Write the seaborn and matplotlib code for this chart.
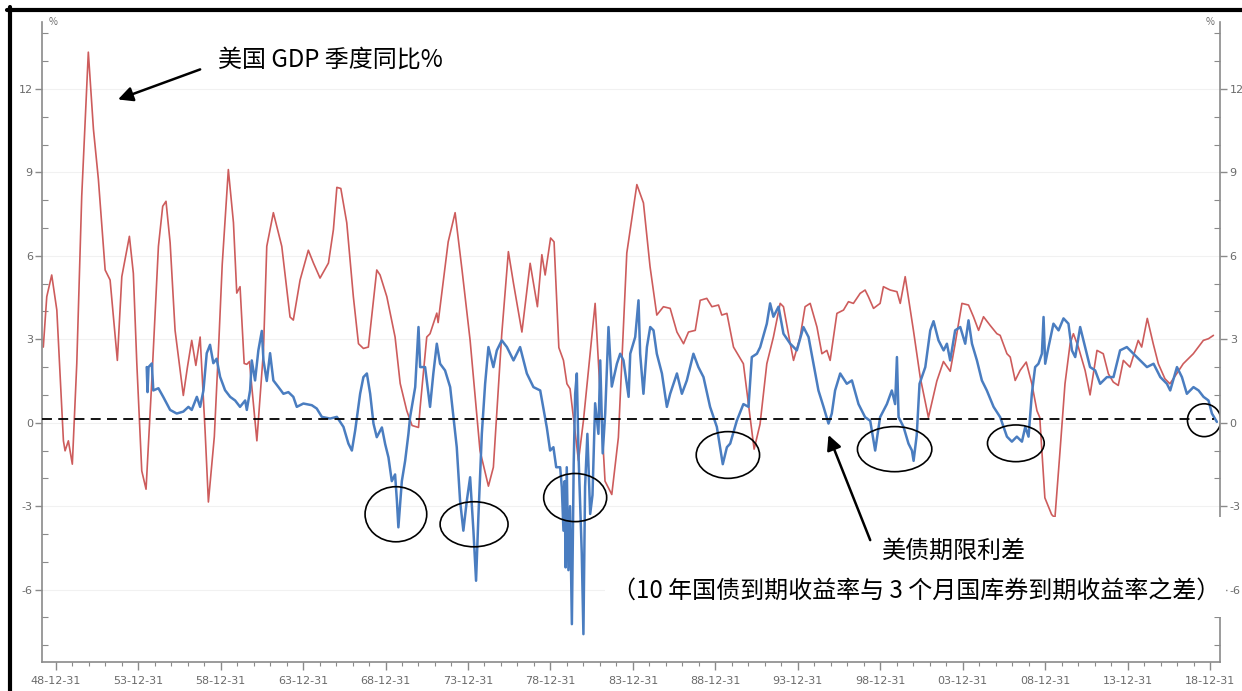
import matplotlib
matplotlib.use("Agg")
import matplotlib.pyplot as plt
import seaborn as sns
from matplotlib.patches import Ellipse, Rectangle
from matplotlib.lines import Line2D

# US GDP, year-on-year % (decimal years)
gdp_year = [
    1948.25, 1948.46, 1948.76, 1949.07, 1949.47, 1949.57, 1949.77, 1950.01, 1950.28, 1950.58,
    1950.98, 1951.29, 1951.59, 1952.00, 1952.30, 1952.74, 1953.01, 1953.47, 1953.71, 1953.92,
    1954.22, 1954.48, 1954.83, 1955.23, 1955.49, 1955.69, 1955.94, 1956.24, 1956.74, 1956.99,
    1957.25, 1957.50, 1957.76, 1958.06, 1958.26, 1958.62, 1958.90, 1959.10, 1959.47, 1959.78,
    1959.98, 1960.18, 1960.43, 1960.59, 1960.75, 1961.20, 1961.60, 1961.80, 1962.20, 1962.71,
    1963.21, 1963.41, 1963.82, 1964.32, 1964.63, 1965.03, 1965.54, 1965.84, 1966.05, 1966.29,
    1966.65, 1967.05, 1967.36, 1967.66, 1967.96, 1968.47, 1968.67, 1969.08, 1969.58, 1969.89,
    1970.29, 1970.61, 1971.00, 1971.10, 1971.50, 1971.70, 1972.11, 1972.19, 1972.80, 1973.22,
    1973.64, 1974.13, 1974.73, 1975.24, 1975.54, 1976.05, 1976.45, 1976.76, 1977.27, 1977.77,
    1978.21, 1978.48, 1978.68, 1979.01, 1979.22, 1979.51, 1979.79, 1980.00, 1980.19, 1980.70,
    1981.00, 1981.71, 1982.31, 1982.72, 1983.12, 1983.63, 1984.24, 1984.64, 1985.04, 1985.45,
    1985.85, 1986.26, 1986.67, 1987.07, 1987.37, 1987.78, 1988.08, 1988.48, 1988.79, 1989.19,
    1989.39, 1989.70, 1990.10, 1990.70, 1991.11, 1991.35, 1991.71, 1992.12, 1992.52, 1992.93,
    1993.13, 1993.54, 1993.74, 1994.14, 1994.44, 1994.75, 1995.16, 1995.46, 1995.76, 1995.96,
    1996.37, 1996.77, 1997.07, 1997.37, 1997.78, 1998.08, 1998.28, 1998.59, 1998.99, 1999.19,
    1999.60, 2000.01, 2000.21, 2000.51, 2001.01, 2001.42, 2001.92, 2002.43, 2002.83, 2003.24,
    2003.54, 2003.95, 2004.35, 2004.65, 2004.96, 2005.26, 2005.66, 2006.07, 2006.27, 2006.68,
    2006.88, 2007.18, 2007.48, 2007.85, 2008.19, 2008.50, 2008.67, 2008.98, 2009.39, 2009.59,
    2009.90, 2010.20, 2010.51, 2010.71, 2011.01, 2011.42, 2011.72, 2012.14, 2012.52, 2012.83,
    2013.13, 2013.43, 2013.74, 2014.14, 2014.64, 2014.85, 2015.19, 2015.55, 2015.86, 2016.26,
    2016.56, 2016.97, 2017.37, 2017.98, 2018.59, 2018.90, 2019.20,
]
gdp_yoy = [
    2.72, 4.53, 5.31, 4.05, -0.65, -1.01, -0.65, -1.49, 2.13, 8.14,
    13.32, 10.55, 8.75, 5.49, 5.13, 2.24, 5.25, 6.70, 5.37, 2.13,
    -1.73, -2.39, 1.52, 6.34, 7.78, 7.96, 6.47, 3.32, 0.98, 2.00,
    2.96, 2.06, 3.08, -0.29, -2.85, -0.50, 3.00, 5.70, 9.10, 7.19,
    4.66, 4.89, 2.13, 2.10, 2.20, -0.65, 2.60, 6.34, 7.55, 6.34,
    3.80, 3.69, 5.13, 6.20, 5.74, 5.20, 5.74, 6.94, 8.46, 8.42,
    7.19, 4.53, 2.84, 2.67, 2.72, 5.49, 5.31, 4.53, 3.08, 1.41,
    0.43, -0.10, -0.17, 0.55, 3.08, 3.20, 3.94, 3.60, 6.50, 7.55,
    5.49, 2.96, -1.01, -2.28, -1.60, 3.20, 6.15, 5.01, 3.26, 5.73,
    4.17, 6.04, 5.31, 6.64, 6.50, 2.70, 2.24, 1.40, 1.22, -1.37,
    0.07, 4.29, -2.10, -2.58, -0.53, 6.10, 8.56, 7.90, 5.61, 3.87,
    4.17, 4.11, 3.26, 2.84, 3.26, 3.32, 4.40, 4.47, 4.17, 4.23,
    3.87, 3.93, 2.72, 2.12, 0.19, -0.95, -0.05, 2.12, 3.08, 4.29,
    4.17, 2.84, 2.24, 3.08, 4.17, 4.29, 3.44, 2.48, 2.60, 2.24,
    3.93, 4.05, 4.35, 4.29, 4.65, 4.77, 4.53, 4.11, 4.29, 4.89,
    4.77, 4.71, 4.29, 5.25, 3.32, 1.64, 0.19, 1.50, 2.20, 1.85,
    2.84, 4.29, 4.23, 3.81, 3.32, 3.81, 3.50, 3.20, 3.14, 2.48,
    2.36, 1.52, 1.88, 2.18, 1.40, 0.43, 0.19, -2.70, -3.30, -3.42,
    -1.01, 1.40, 2.84, 3.20, 2.72, 1.88, 1.00, 2.60, 2.48, 1.76,
    1.46, 1.34, 2.24, 2.00, 2.96, 2.72, 3.75, 2.84, 2.12, 1.58,
    1.40, 1.76, 2.12, 2.48, 2.96, 3.02, 3.14,
]

# 10y Treasury minus 3m bill, percentage points
spread_year = [
    1954.52, 1954.57, 1954.63, 1954.83, 1954.92, 1955.23, 1955.53, 1955.94, 1956.34, 1956.74,
    1957.05, 1957.25, 1957.56, 1957.76, 1957.96, 1958.16, 1958.36, 1958.56, 1958.76, 1958.97,
    1959.27, 1959.58, 1959.88, 1960.18, 1960.49, 1960.59, 1960.79, 1960.89, 1961.09, 1961.29,
    1961.50, 1961.60, 1961.80, 1962.00, 1962.20, 1962.51, 1962.81, 1963.11, 1963.41, 1963.62,
    1964.02, 1964.53, 1964.83, 1965.14, 1965.64, 1966.05, 1966.45, 1966.75, 1966.96, 1967.16,
    1967.46, 1967.66, 1967.87, 1968.07, 1968.27, 1968.47, 1968.78, 1968.98, 1969.18, 1969.38,
    1969.58, 1969.69, 1969.78, 1969.99, 1970.19, 1970.39, 1970.49, 1970.80, 1971.00, 1971.10,
    1971.40, 1971.70, 1971.90, 1972.11, 1972.31, 1972.61, 1972.92, 1973.12, 1973.32, 1973.52,
    1973.72, 1973.93, 1974.13, 1974.33, 1974.49, 1974.63, 1974.84, 1975.04, 1975.24, 1975.54,
    1975.75, 1976.05, 1976.36, 1976.76, 1977.16, 1977.57, 1977.97, 1978.38, 1978.78, 1978.98,
    1979.18, 1979.35, 1979.59, 1979.69, 1979.79, 1979.86, 1979.92, 1979.99, 1980.09, 1980.19,
    1980.30, 1980.41, 1980.50, 1980.60, 1980.70, 1980.90, 1981.00, 1981.10, 1981.24, 1981.41,
    1981.55, 1981.71, 1981.91, 1982.02, 1982.17, 1982.32, 1982.52, 1982.72, 1983.03, 1983.23,
    1983.43, 1983.74, 1983.84, 1984.14, 1984.34, 1984.44, 1984.64, 1984.85, 1985.05, 1985.25,
    1985.45, 1985.76, 1986.06, 1986.26, 1986.67, 1986.97, 1987.27, 1987.67, 1987.97, 1988.28,
    1988.68, 1989.09, 1989.45, 1989.70, 1989.90, 1990.30, 1990.70, 1991.01, 1991.21, 1991.52,
    1991.72, 1992.12, 1992.32, 1992.52, 1992.83, 1993.13, 1993.54, 1993.94, 1994.34, 1994.65,
    1994.95, 1995.25, 1995.56, 1995.86, 1996.06, 1996.26, 1996.57, 1996.97, 1997.28, 1997.68,
    1998.08, 1998.39, 1998.69, 1998.99, 1999.40, 1999.70, 1999.90, 2000.01, 2000.11, 2000.41,
    2000.71, 2000.92, 2001.02, 2001.21, 2001.38, 2001.73, 2002.03, 2002.23, 2002.53, 2002.84,
    2003.04, 2003.24, 2003.54, 2003.85, 2004.15, 2004.35, 2004.56, 2004.86, 2005.16, 2005.46,
    2005.87, 2006.27, 2006.68, 2006.98, 2007.28, 2007.59, 2007.79, 2007.99, 2008.19, 2008.39,
    2008.59, 2008.80, 2008.90, 2009.00, 2009.20, 2009.50, 2009.81, 2010.11, 2010.41, 2010.62,
    2010.82, 2011.12, 2011.42, 2011.72, 2012.03, 2012.33, 2012.74, 2013.14, 2013.54, 2013.95,
    2014.35, 2014.76, 2015.17, 2015.57, 2015.98, 2016.38, 2016.58, 2016.99, 2017.29, 2017.59,
    2017.99, 2018.30, 2018.60, 2018.90, 2019.11, 2019.41,
]
spread = [
    2.00, 1.10, 2.00, 2.13, 1.16, 1.24, 0.92, 0.46, 0.33, 0.40,
    0.57, 0.46, 0.93, 0.57, 1.16, 2.50, 2.80, 2.14, 2.30, 1.65,
    1.17, 0.93, 0.80, 0.57, 0.80, 0.46, 1.17, 2.24, 1.52, 2.60,
    3.30, 2.24, 1.50, 2.50, 1.52, 1.28, 1.04, 1.10, 0.93, 0.57,
    0.69, 0.63, 0.51, 0.21, 0.15, 0.21, -0.15, -0.75, -1.00, -0.28,
    1.04, 1.64, 1.77, 1.04, -0.03, -0.52, -0.17, -0.77, -1.25, -2.10,
    -1.86, -2.80, -3.76, -2.10, -1.37, -0.40, 0.20, 1.28, 3.44, 2.00,
    2.00, 0.57, 1.77, 2.84, 2.12, 1.88, 1.28, 0.20, -0.88, -2.80,
    -3.88, -2.80, -1.96, -3.88, -5.68, -3.40, -0.40, 1.40, 2.72, 2.00,
    2.60, 2.96, 2.72, 2.24, 2.72, 1.77, 1.28, 1.16, -0.17, -1.00,
    -0.88, -1.60, -1.60, -2.33, -3.88, -2.10, -5.20, -1.60, -5.30, -3.00,
    -7.24, -1.48, 1.04, 1.77, -1.10, -4.70, -7.60, -2.30, -0.40, -3.28,
    -2.60, 0.70, -0.40, 2.24, -1.10, 0.33, 3.44, 1.30, 2.12, 2.48,
    2.24, 0.93, 2.48, 3.08, 4.40, 2.48, 1.04, 2.72, 3.44, 3.32,
    2.48, 1.77, 0.57, 1.04, 1.77, 1.04, 1.52, 2.48, 2.00, 1.64,
    0.57, -0.15, -1.49, -0.88, -0.75, 0.07, 0.67, 0.57, 2.36, 2.48,
    2.72, 3.56, 4.29, 3.81, 4.17, 3.20, 2.84, 2.60, 3.44, 3.08,
    2.12, 1.16, 0.57, -0.03, 0.33, 1.16, 1.77, 1.40, 1.52, 0.67,
    0.20, 0.07, -1.00, 0.20, 0.67, 1.16, 0.67, 2.36, 0.20, -0.15,
    -0.75, -1.00, -1.37, -0.45, 1.40, 2.00, 3.32, 3.65, 2.96, 2.60,
    2.84, 2.24, 3.32, 3.44, 2.84, 3.68, 2.84, 2.24, 1.52, 1.16,
    0.57, 0.20, -0.50, -0.68, -0.50, -0.68, -0.15, -0.50, 1.04, 2.00,
    2.12, 2.48, 3.80, 2.12, 2.72, 3.56, 3.32, 3.75, 3.56, 2.60,
    2.36, 3.44, 2.72, 2.00, 1.88, 1.40, 1.64, 1.64, 2.60, 2.72,
    2.48, 2.24, 2.00, 2.12, 1.64, 1.40, 1.16, 2.00, 1.64, 1.04,
    1.28, 1.16, 0.93, 0.80, 0.33, 0.03,
]

x_ticks = [1949, 1954, 1959, 1964, 1969, 1974, 1979, 1984, 1989, 1994, 1999, 2004, 2009, 2014, 2019]
x_labels = ["48-12-31", "53-12-31", "58-12-31", "63-12-31", "68-12-31", "73-12-31", "78-12-31",
            "83-12-31", "88-12-31", "93-12-31", "98-12-31", "03-12-31", "08-12-31", "13-12-31",
            "18-12-31"]
y_ticks = [-6, -3, 0, 3, 6, 9, 12]
y_labels = ["-6", "-3", "0", "3", "6", "9", "12"]

# circled inversions: centre year, centre value, width (years), height (pp)
circle_year = [1969.63, 1974.37, 1980.50, 1989.76, 1999.87, 2007.22, 2018.64]
circle_val = [-3.29, -3.65, -2.69, -1.16, -0.95, -0.74, 0.09]
circle_w = [3.74, 4.12, 3.82, 3.84, 4.51, 3.44, 2.03]
circle_h = [1.98, 1.62, 1.73, 1.68, 1.62, 1.32, 1.18]

sns.set_theme(style="ticks")
plt.rcParams["font.family"] = ["Noto Sans CJK SC", "DejaVu Sans"]

fig = plt.figure(figsize=(12.42, 6.91), dpi=100)
ax = fig.add_axes([0.0342, 0.042, 0.9481, 0.926])

red = "#cd5c5c"
blue = "#4a7dc0"
axis_grey = "#8a8a8a"
label_grey = "#6a6a6a"
tick_font = ["Liberation Sans Narrow", "DejaVu Sans"]

x_lo, x_hi = 1948.2, 2019.6
y_lo, y_hi = -8.6, 14.4

for v in y_ticks:
    ax.axhline(v, color="#f1f1f1", lw=0.8, zorder=0)

sns.lineplot(x=gdp_year, y=gdp_yoy, ax=ax, color=red, lw=1.2, sort=False, estimator=None, zorder=2)
sns.lineplot(x=spread_year, y=spread, ax=ax, color=blue, lw=1.8, sort=False, estimator=None, zorder=2.2)
ax.plot([x_lo, 2019.25], [0.12, 0.12], color="black", lw=1.3, dashes=(5.5, 3.5), zorder=3)

for cx, cy, w, h in zip(circle_year, circle_val, circle_w, circle_h):
    ax.add_patch(Ellipse((cx, cy), w, h, fill=False, edgecolor="black", lw=1.2, zorder=4))

ax.set_xlim(x_lo, x_hi)
ax.set_ylim(y_lo, y_hi)
ax.set_xticks(x_ticks)
ax.set_xticklabels(x_labels, family=tick_font)
ax.set_xticks(list(range(1949, 2020)), minor=True)
ax.set_yticks(y_ticks)
ax.set_yticklabels(y_labels, family=tick_font)
ax.set_yticks(list(range(-8, 15)), minor=True)
ax.set_xlabel("")
ax.set_ylabel("")

for side in ["top", "right"]:
    ax.spines[side].set_visible(False)
for side in ["left", "bottom"]:
    ax.spines[side].set_color(axis_grey)
    ax.spines[side].set_linewidth(1.2)

ax.tick_params(axis="both", which="both", colors=axis_grey, labelcolor=label_grey, labelsize=8)
ax.tick_params(axis="x", which="major", direction="out", length=6, width=1, pad=4)
ax.tick_params(axis="x", which="minor", direction="out", length=3, width=0.8)
ax.tick_params(axis="y", which="major", direction="out", length=5, width=1, pad=2)
ax.tick_params(axis="y", which="minor", direction="in", length=4, width=0.8)

ax2 = ax.twinx()
ax2.set_ylim(y_lo, y_hi)
ax2.set_yticks(y_ticks)
ax2.set_yticklabels(y_labels, family=tick_font)
ax2.set_yticks(list(range(-8, 15)), minor=True)
for side in ["top", "left", "bottom"]:
    ax2.spines[side].set_visible(False)
ax2.spines["right"].set_color(axis_grey)
ax2.spines["right"].set_linewidth(1.2)
ax2.tick_params(axis="y", which="both", colors=axis_grey, labelcolor=label_grey, labelsize=8)
ax2.tick_params(axis="y", which="major", direction="out", length=5, width=1, pad=2)
ax2.tick_params(axis="y", which="minor", direction="in", length=4, width=0.8)

# white box behind the spread caption, it hides part of the right axis
ax2.add_patch(Rectangle((1982.32, -6.99), 2019.98 - 1982.32, 3.6, facecolor="white",
                        edgecolor="none", zorder=5, clip_on=False))

txt = dict(fontsize=17.3, color="black", zorder=7, va="center", ha="left")
ax2.text(1958.87, 13.05, "美国 GDP 季度同比%", **txt)
ax2.text(1999.12, -4.62, "美债期限利差", **txt)
ax2.text(1982.75, -6.09, "（10 年国债到期收益率与 3 个月国库券到期收益率之差）", **txt)

arrow = dict(arrowstyle="-|>", color="black", lw=1.8, mutation_scale=22, shrinkA=0, shrinkB=0)
ax2.annotate("", xy=(1952.78, 11.62), xytext=(1957.76, 12.70), arrowprops=arrow, zorder=7)
ax2.annotate("", xy=(1995.86, -0.44), xytext=(1998.39, -4.22), arrowprops=arrow, zorder=7)

fig.text(49 / 1242, 1 - 22 / 691, "%", fontsize=7, color=label_grey, ha="left", va="center")
fig.text(1214 / 1242, 1 - 22 / 691, "%", fontsize=7, color=label_grey, ha="right", va="center")

# black frame on the top and left edges of the screenshot
fig.add_artist(Line2D([7 / 1242, 1], [1 - 9.5 / 691] * 2, transform=fig.transFigure, color="black", lw=3))
fig.add_artist(Line2D([9.5 / 1242] * 2, [0, 1 - 7 / 691], transform=fig.transFigure, color="black", lw=3))

fig.savefig("out.png", dpi=100, facecolor="white")
